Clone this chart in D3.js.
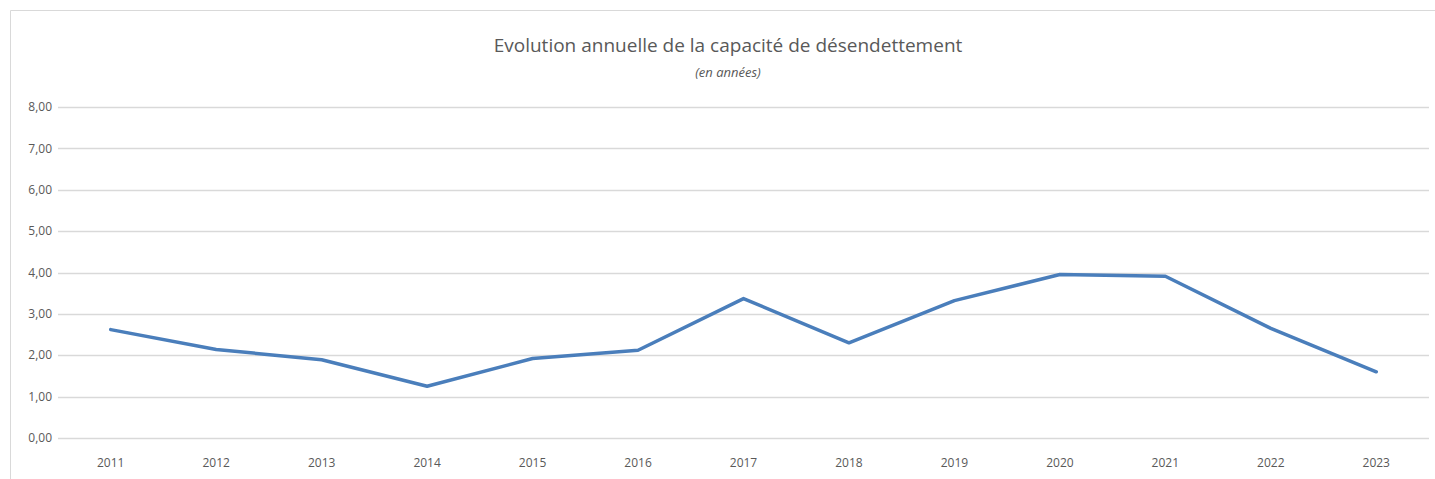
<!DOCTYPE html>
<html>
<head>
<meta charset="utf-8">
<script src="https://cdn.jsdelivr.net/npm/d3@7"></script>
<style>
  body { margin: 0; background: #fff; }
  svg { display: block; font-family: "Open Sans", "Liberation Sans", sans-serif; }
</style>
</head>
<body>
<script>
const width = 1435;
const height = 479;

// data
const years = ['2011','2012','2013','2014','2015','2016','2017','2018','2019','2020','2021','2022','2023'];
const capacite = [2.62, 2.14, 1.89, 1.25, 1.92, 2.12, 3.37, 2.30, 3.32, 3.95, 3.91, 2.65, 1.60];
const yTicks = [0, 1, 2, 3, 4, 5, 6, 7, 8];

const margin = {top: 107, right: 6, bottom: 41, left: 58};

let svg = d3.select('body').append('svg')
            .attr('width', width)
            .attr('height', height);

// chart area border (left + top visible)
svg.append('path')
   .attr('d', `M10.5,${height} V10.5 H${width}`)
   .attr('fill', 'none')
   .attr('stroke', '#d9d9d9')
   .attr('stroke-width', 1);

const x = d3.scaleBand()
            .domain(years)
            .range([margin.left, width - margin.right]);

const y = d3.scaleLinear()
            .domain([0, 8])
            .range([height - margin.bottom, margin.top]);

const fr = d3.formatLocale({decimal: ',', thousands: ' ', grouping: [3], currency: ['', ' €']});
const fmt = fr.format('.2f');

// gridlines
svg.append('g')
   .selectAll('line')
   .data(yTicks)
   .enter()
   .append('line')
   .attr('x1', margin.left)
   .attr('x2', width - margin.right)
   .attr('y1', d => Math.round(y(d)) + 0.5)
   .attr('y2', d => Math.round(y(d)) + 0.5)
   .attr('stroke', '#d9d9d9')
   .attr('stroke-width', 1.3);

// y labels
svg.append('g')
   .selectAll('text')
   .data(yTicks)
   .enter()
   .append('text')
   .attr('x', 52)
   .attr('y', d => y(d))
   .attr('dy', '0.35em')
   .attr('text-anchor', 'end')
   .attr('fill', '#595959')
   .style('font-size', '12px')
   .text(d => fmt(d));

// x labels
svg.append('g')
   .selectAll('text')
   .data(years)
   .enter()
   .append('text')
   .attr('x', d => x(d) + x.bandwidth() / 2)
   .attr('y', 467)
   .attr('text-anchor', 'middle')
   .attr('fill', '#595959')
   .style('font-size', '12px')
   .text(d => d);

// the line
const line = d3.line()
               .x((d, i) => x(years[i]) + x.bandwidth() / 2)
               .y(d => y(d));

svg.append('path')
   .datum(capacite)
   .attr('d', line)
   .attr('fill', 'none')
   .attr('stroke', '#4a7ebb')
   .attr('stroke-width', 3.5)
   .attr('stroke-linejoin', 'round')
   .attr('stroke-linecap', 'round');

// titles
svg.append('text')
   .attr('x', 728)
   .attr('y', 52)
   .attr('text-anchor', 'middle')
   .attr('fill', '#595959')
   .style('font-size', '19px')
   .text('Evolution annuelle de la capacité de désendettement');

svg.append('text')
   .attr('x', 728)
   .attr('y', 77)
   .attr('text-anchor', 'middle')
   .attr('fill', '#595959')
   .style('font-size', '13px')
   .style('font-style', 'italic')
   .text('(en années)');
</script>
</body>
</html>
